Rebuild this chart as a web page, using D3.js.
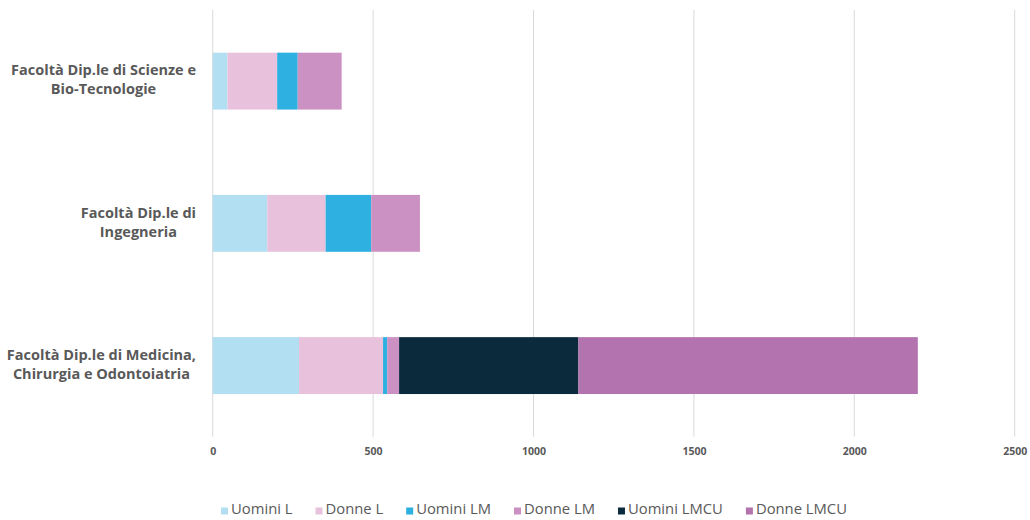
<!DOCTYPE html>
<html>
<head>
<meta charset="utf-8">
<script src="https://cdn.jsdelivr.net/npm/d3@7"></script>
<style>
  html, body { margin: 0; padding: 0; background: #ffffff; }
  svg { display: block; }
</style>
</head>
<body>
<svg id="chart" width="1030" height="520"></svg>
<script>
// Faculties (top to bottom), label lines for each
const categories = [
  "Facoltà Dip.le di Scienze e Bio-Tecnologie",
  "Facoltà Dip.le di Ingegneria",
  "Facoltà Dip.le di Medicina, Chirurgia e Odontoiatria"
];
const categoryLines = [
  ["Facoltà Dip.le di Scienze e", "Bio-Tecnologie"],
  ["Facoltà Dip.le di", "Ingegneria"],
  ["Facoltà Dip.le di Medicina,", "Chirurgia e Odontoiatria"]
];

// Series, stacked left to right
const seriesNames = ["Uomini L", "Donne L", "Uomini LM", "Donne LM", "Uomini LMCU", "Donne LMCU"];
const uominiL    = [46, 170, 269];
const donneL     = [155, 182, 262];
const uominiLM   = [64, 142, 13];
const donneLM    = [137, 152, 37];
const uominiLMCU = [0, 0, 559];
const donneLMCU  = [0, 0, 1058];

const xTicks = [0, 500, 1000, 1500, 2000, 2500];

const seriesColors = ["#b2e0f2", "#e8c2dc", "#2eb0e0", "#cc91c3", "#0b2b3d", "#b373ae"];

const seriesValues = [uominiL, donneL, uominiLM, donneLM, uominiLMCU, donneLMCU];
const rows = categories.map((c, i) => {
  const r = { category: c };
  seriesNames.forEach((s, j) => { r[s] = seriesValues[j][i]; });
  return r;
});

const svg = d3.select("#chart");
const margin = { left: 212.7, right: 15.3, top: 10, bottom: 83.3 };
const width = 1030, height = 520;
const font = "'Open Sans', Lato, sans-serif";

const x = d3.scaleLinear()
  .domain([0, 2500])
  .range([margin.left, width - margin.right]);

const y = d3.scaleBand()
  .domain(categories)
  .range([margin.top, height - margin.bottom])
  .paddingInner(0.6)
  .paddingOuter(0.3);

const textColor = "#595959";

// Vertical gridlines
svg.append("g")
  .selectAll("line")
  .data(xTicks)
  .join("line")
  .attr("x1", d => x(d)).attr("x2", d => x(d))
  .attr("y1", margin.top).attr("y2", height - margin.bottom)
  .attr("stroke", "#d9d9d9")
  .attr("stroke-width", 1);

// X axis labels
const xAxis = d3.axisBottom(x).tickValues(xTicks).tickFormat(d3.format("d")).tickSize(0).tickPadding(0);
const gx = svg.append("g")
  .attr("transform", `translate(0,${height - margin.bottom})`)
  .call(xAxis);
gx.select(".domain").remove();
gx.selectAll("text")
  .attr("dy", null)
  .attr("y", 15)
  .attr("dominant-baseline", "middle")
  .attr("fill", textColor)
  .style("font-family", font)
  .style("font-size", "10.5px")
  .style("font-weight", "700");

// Stacked bars
const stack = d3.stack().keys(seriesNames);
const stacked = stack(rows);
const color = d3.scaleOrdinal().domain(seriesNames).range(seriesColors);

svg.append("g")
  .selectAll("g")
  .data(stacked)
  .join("g")
  .attr("fill", d => color(d.key))
  .selectAll("rect")
  .data(d => d.filter(p => p[1] > p[0]))
  .join("rect")
  .attr("x", d => x(d[0]))
  .attr("width", d => x(d[1]) - x(d[0]))
  .attr("y", d => y(d.data.category))
  .attr("height", y.bandwidth());

// Category labels: two centred lines, block right-aligned to the axis
const labelRight = 196;
const lineGap = 19;
const labelG = svg.append("g");
categories.forEach((c, i) => {
  const cy = y(c) + y.bandwidth() / 2;
  const t = labelG.append("text")
    .attr("fill", textColor)
    .style("font-family", font)
    .style("font-size", "14.5px")
    .style("font-weight", "700")
    .attr("text-anchor", "middle");
  const lines = categoryLines[i];
  const spans = lines.map((ln, k) => t.append("tspan")
    .attr("y", cy + (k - (lines.length - 1) / 2) * lineGap)
    .attr("dominant-baseline", "middle")
    .text(ln));
  const maxW = d3.max(spans, s => s.node().getComputedTextLength());
  spans.forEach(s => s.attr("x", labelRight - maxW / 2));
});

// Legend
const legendY = 510;
const sw = 7, swGap = 3, itemGap = 23;
const legend = svg.append("g");
const items = seriesNames.map((s, i) => {
  const g = legend.append("g");
  g.append("rect")
    .attr("width", sw).attr("height", sw)
    .attr("y", legendY - sw / 2 + 1)
    .attr("fill", seriesColors[i]);
  const txt = g.append("text")
    .attr("x", sw + swGap)
    .attr("y", legendY)
    .attr("dominant-baseline", "middle")
    .attr("fill", textColor)
    .style("font-family", font)
    .style("font-size", "14.8px")
    .text(s);
  return { g, w: sw + swGap + txt.node().getComputedTextLength() };
});
const totalW = d3.sum(items, d => d.w) + itemGap * (items.length - 1);
let cx = 534 - totalW / 2;
items.forEach(it => {
  it.g.attr("transform", `translate(${cx},0)`);
  cx += it.w + itemGap;
});
</script>
</body>
</html>
